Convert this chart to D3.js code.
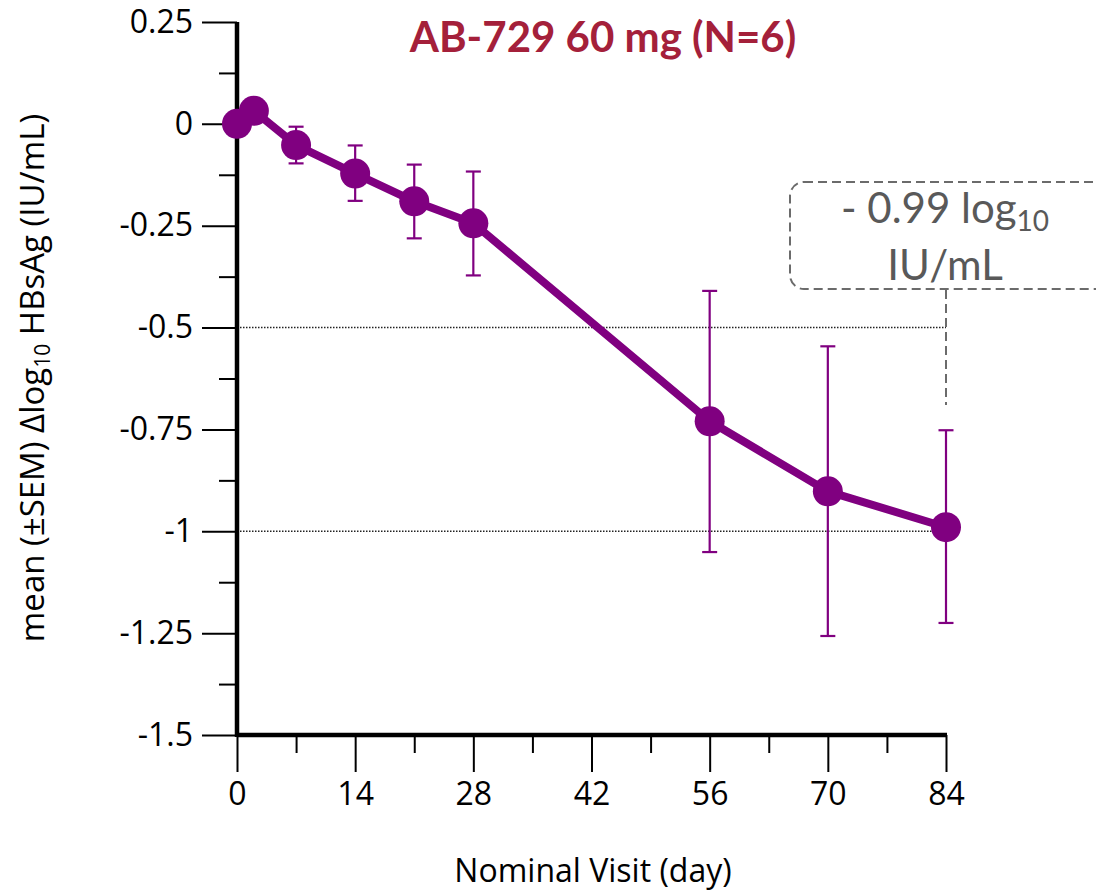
<!DOCTYPE html>
<html>
<head>
<meta charset="utf-8">
<script src="https://cdn.jsdelivr.net/npm/d3@7"></script>
<style>
  html, body { margin: 0; padding: 0; background: #fff; }
  svg { display: block; }
</style>
</head>
<body>
<svg id="chart" width="1096" height="894"></svg>
<script>
// ---- data ----
const days      = [0, 2, 7, 14, 21, 28, 56, 70, 84];
const meanVals  = [0, 0.032, -0.052, -0.122, -0.19, -0.244, -0.73, -0.902, -0.99];
const semUpper  = [null, null, -0.007, -0.053, -0.10, -0.117, -0.41, -0.546, -0.752];
const semLower  = [null, null, -0.097, -0.189, -0.281, -0.372, -1.051, -1.257, -1.225];
const xTicks    = [0, 14, 28, 42, 56, 70, 84];
const xMinor    = [7, 21, 35, 49, 63, 77];
const yTicks    = [0.25, 0, -0.25, -0.5, -0.75, -1, -1.25, -1.5];
const yMinor    = [0.125, -0.125, -0.375, -0.625, -0.875, -1.125, -1.375];
const refLines  = [-0.5, -1];
const titleText = "AB-729 60 mg (N=6)";
const annotLines = ["- 0.99 log", "IU/mL"];
const annotDay = 84;

const svg = d3.select("#chart");
const x = d3.scaleLinear().domain([0, 84]).range([237, 946]);
const y = d3.scaleLinear().domain([-1.5, 0.25]).range([735, 22]);

const tickFont = "'Open Sans', 'Noto Sans', sans-serif";
const purple = "#800080";

// reference dotted lines
svg.selectAll("line.ref").data(refLines).enter().append("line")
  .attr("x1", x(0) + 3).attr("x2", x(84))
  .attr("y1", d => y(d)).attr("y2", d => y(d))
  .attr("stroke", "#222").attr("stroke-width", 1.5)
  .attr("stroke-dasharray", "1.5,1.5");

// Y axis
const yAxis = d3.axisLeft(y).tickValues(yTicks).tickSize(35).tickPadding(9)
  .tickFormat(d => String(d));
const yAxisMinor = d3.axisLeft(y).tickValues(yMinor).tickSize(18).tickFormat("");
const gy = svg.append("g").attr("transform", `translate(${x(0)},0)`).call(yAxis);
svg.append("g").attr("transform", `translate(${x(0)},0)`).call(yAxisMinor)
  .call(g => g.select(".domain").remove())
  .selectAll("line").attr("stroke", "#000").attr("stroke-width", 2);
gy.select(".domain").remove();
gy.selectAll("line").attr("stroke", "#000").attr("stroke-width", 2);
gy.selectAll("text").attr("font-family", tickFont).attr("font-size", 32).attr("fill", "#000");

// X axis
const xAxis = d3.axisBottom(x).tickValues(xTicks).tickSize(37).tickPadding(10).tickFormat(d => String(d));
const xAxisMinor = d3.axisBottom(x).tickValues(xMinor).tickSize(18).tickFormat("");
const gx = svg.append("g").attr("transform", `translate(0,${y(-1.5)})`).call(xAxis);
svg.append("g").attr("transform", `translate(0,${y(-1.5)})`).call(xAxisMinor)
  .call(g => g.select(".domain").remove())
  .selectAll("line").attr("stroke", "#000").attr("stroke-width", 2);
gx.select(".domain").remove();
gx.selectAll("line").attr("stroke", "#000").attr("stroke-width", 2);
gx.selectAll("text").attr("font-family", tickFont).attr("font-size", 32).attr("fill", "#000");

// axis lines (thick)
svg.append("line").attr("x1", x(0)).attr("x2", x(0)).attr("y1", y(0.25)).attr("y2", y(-1.5) + 2)
  .attr("stroke", "#000").attr("stroke-width", 4.5);
svg.append("line").attr("x1", x(0)).attr("x2", x(84) + 1).attr("y1", y(-1.5)).attr("y2", y(-1.5))
  .attr("stroke", "#000").attr("stroke-width", 4.5);

// error bars
const pts = days.map((d, i) => ({ day: d, m: meanVals[i], hi: semUpper[i], lo: semLower[i] }));
const eb = svg.append("g");
pts.filter(p => p.hi !== null).forEach(p => {
  eb.append("line").attr("x1", x(p.day)).attr("x2", x(p.day))
    .attr("y1", y(p.hi)).attr("y2", y(p.lo)).attr("stroke", purple).attr("stroke-width", 2.2);
  [p.hi, p.lo].forEach(v => {
    eb.append("line").attr("x1", x(p.day) - 7.5).attr("x2", x(p.day) + 7.5)
      .attr("y1", y(v)).attr("y2", y(v)).attr("stroke", purple).attr("stroke-width", 2.2);
  });
});

// line
const line = d3.line().x(p => x(p.day)).y(p => y(p.m));
svg.append("path").datum(pts).attr("d", line)
  .attr("fill", "none").attr("stroke", purple).attr("stroke-width", 8).attr("stroke-linejoin", "round");

// markers
svg.selectAll("circle.pt").data(pts).enter().append("circle")
  .attr("cx", p => x(p.day)).attr("cy", p => y(p.m)).attr("r", 15)
  .attr("fill", purple);

// title
svg.append("text").attr("x", 603).attr("y", 52).attr("text-anchor", "middle")
  .attr("font-family", "Lato, 'Open Sans', sans-serif").attr("font-weight", "bold")
  .attr("font-size", 42).attr("fill", "#A4203A").text(titleText);

// axis titles
svg.append("text").attr("x", 593).attr("y", 882).attr("text-anchor", "middle")
  .attr("font-family", tickFont).attr("font-size", 32).attr("fill", "#000")
  .text("Nominal Visit (day)");

const yt = svg.append("text").attr("transform", "translate(44,378) rotate(-90)")
  .attr("text-anchor", "middle").attr("font-family", tickFont).attr("font-size", 33).attr("fill", "#000");
yt.append("tspan").text("mean (±SEM) Δlog");
yt.append("tspan").attr("font-size", 21).attr("dy", 6).text("10");
yt.append("tspan").attr("dy", -6).text(" HBsAg (IU/mL)");

// annotation box
const annot = svg.append("g");
annot.append("rect").attr("x", 790).attr("y", 182).attr("width", 340).attr("height", 107)
  .attr("rx", 14).attr("ry", 14)
  .attr("fill", "none").attr("stroke", "#6b6b6b").attr("stroke-width", 2)
  .attr("stroke-dasharray", "9,5");
annot.append("line").attr("x1", x(annotDay)).attr("x2", x(annotDay))
  .attr("y1", 290).attr("y2", 405)
  .attr("stroke", "#6b6b6b").attr("stroke-width", 2).attr("stroke-dasharray", "9,5");
const at1 = annot.append("text").attr("x", 945).attr("y", 223).attr("text-anchor", "middle")
  .attr("font-family", "Lato, 'Open Sans', sans-serif").attr("font-size", 42).attr("fill", "#595959");
at1.append("tspan").text(annotLines[0]);
at1.append("tspan").attr("font-size", 28).attr("dy", 8).text("10");
annot.append("text").attr("x", 945).attr("y", 280).attr("text-anchor", "middle")
  .attr("font-family", "Lato, 'Open Sans', sans-serif").attr("font-size", 42).attr("fill", "#595959")
  .text(annotLines[1]);
</script>
</body>
</html>
